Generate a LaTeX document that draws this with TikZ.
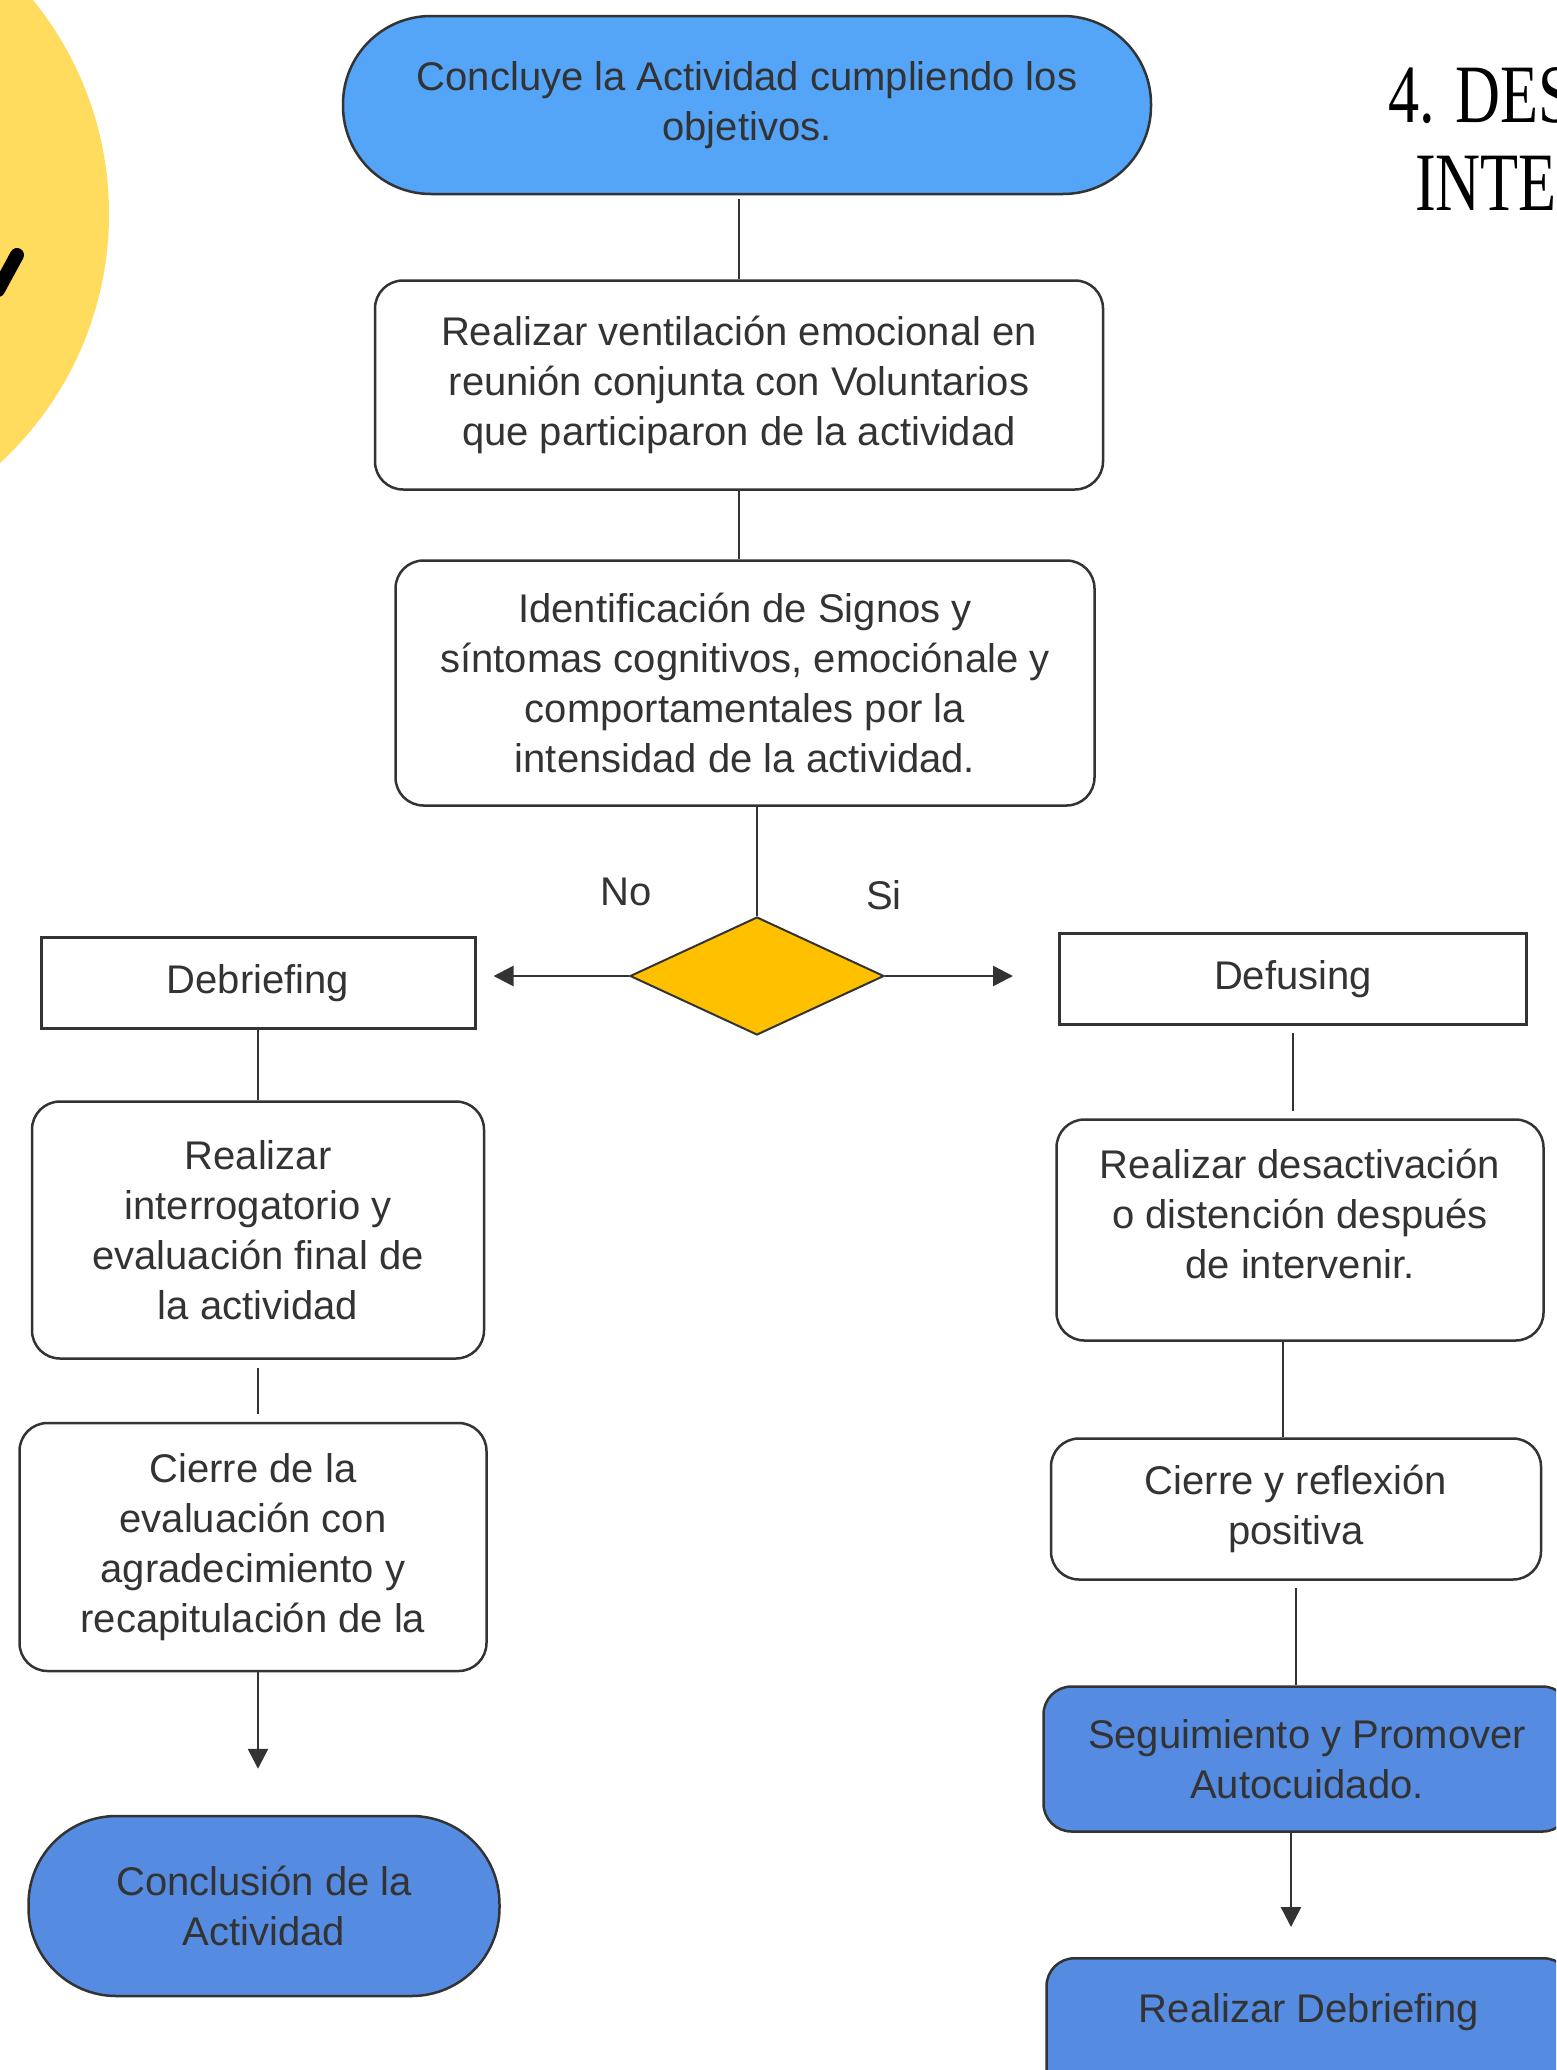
\documentclass[tikz,border=0pt]{standalone}
\usepackage{fontspec}
\setmainfont{Liberation Sans}
\newfontfamily\titlefont[FakeStretch=0.75]{Liberation Serif}
\usetikzlibrary{shapes.geometric,arrows.meta}
\definecolor{cielo}{HTML}{54A4F7}
\definecolor{azul}{HTML}{558BE1}
\definecolor{ambar}{HTML}{FFC000}
\definecolor{sol}{HTML}{FFDC5E}
\definecolor{tinta}{HTML}{333333}

\begin{document}
\begin{tikzpicture}[x=1pt,y=-1pt,
    every node/.style={text=tinta, font=\fontsize{40}{50}\selectfont, align=center, inner sep=0pt},
    caja/.style={draw=tinta, line width=2.5pt, rounded corners=28pt},
    recto/.style={draw=tinta, line width=3pt},
    fin/.style={draw=tinta, line width=2.5pt, rounded corners=88pt},
    rombo/.style={diamond, draw=tinta, line width=2pt, fill=ambar},
    linea/.style={draw=tinta, line width=2.5pt},
    flecha/.style={linea, -{Triangle[width=20pt,length=20pt]}}]
  \useasboundingbox (0,0) rectangle (1556,2070);
  \clip (0,0) rectangle (1556,2070);
  \fill[sol] (-230,214) circle (339);
  \draw[line width=14pt, line cap=round] (17,255) -- (-2,290);
  \node[anchor=base west, text=black, font=\titlefont\fontsize{83}{90}\selectfont] (titulo) at (1388,122) {4. DES};
  \node[anchor=base west, text=black, font=\titlefont\fontsize{83}{90}\selectfont] (subtitulo) at (1415,210) {INTE};

  \node[fin, fill=cielo, minimum width=808pt, minimum height=178pt] (inicio) at (747,105) {Concluye la Actividad cumpliendo los\\objetivos.};
  \node[caja, minimum width=728pt, minimum height=209pt] (ventila) at (739,385) {Realizar ventilación emocional en\\reunión conjunta con Voluntarios\\que participaron de la actividad};
  \node[caja, minimum width=699pt, minimum height=245pt] (signos) at (745,683) {Identificación de Signos y\\síntomas cognitivos, emociónale y\\comportamentales por la\\intensidad de la actividad.};
  \node[rombo, minimum width=254pt, minimum height=118pt] (decide) at (757,976) {};
  \node (no) at (626,892) {No};
  \node (si) at (884,895) {Si};
  \node[recto, minimum width=434pt, minimum height=91pt] (debrief) at (258,983) {Debriefing};
  \node[recto, minimum width=467pt, minimum height=91pt] (defus) at (1293,979) {Defusing};
  \node[caja, minimum width=452pt, minimum height=257pt] (interroga) at (258,1230) {Realizar\\interrogatorio y\\evaluación final de\\la actividad};
  \node[caja, minimum width=467pt, minimum height=248pt] (cierre) at (253,1547) {Cierre de la\\evaluación con\\agradecimiento y\\recapitulación de la};
  \node[fin, fill=azul, minimum width=471pt, minimum height=180pt] (conclusion) at (264,1906) {Conclusión de la\\Actividad};
  \node[caja, minimum width=487pt, minimum height=221pt, text depth=32pt] (desactiva) at (1300,1230) {Realizar desactivación\\o distención después\\de intervenir.};
  \node[caja, minimum width=490pt, minimum height=141pt] (reflexion) at (1296,1509) {Cierre y reflexión\\positiva};
  \node[caja, fill=azul, minimum width=527pt, minimum height=145pt] (seguimiento) at (1307,1759) {Seguimiento y Promover\\Autocuidado.};
  \node[caja, fill=azul, anchor=north, minimum width=525pt, text height=30pt, text depth=150pt, inner ysep=34pt] (realiza) at (1309,1957) {Realizar Debriefing};

  \draw[linea, shorten >=4pt] (ventila.north) -- (ventila.north |- inicio.south);
  \draw[linea] (ventila.south) -- (ventila.south |- signos.north);
  \draw[linea] (decide.north) -- (decide.north |- signos.south);
  \draw[flecha, shorten >=17pt] (decide.west) -- (debrief.east |- decide.west);
  \draw[flecha, shorten >=45pt] (decide.east) -- (defus.west |- decide.east);
  \draw[linea] (debrief.south) -- (interroga.north);
  \draw[linea, shorten <=8pt, shorten >=8pt] (interroga.south) -- (interroga.south |- cierre.north);
  \draw[flecha, shorten >=46pt] ([xshift=5pt]cierre.south) -- ([xshift=5pt]cierre.south |- conclusion.north);
  \draw[linea, shorten <=7pt, shorten >=7pt] (defus.south) -- (defus.south |- desactiva.north);
  \draw[linea] ([xshift=-13pt]reflexion.north) -- ([xshift=-13pt]reflexion.north |- desactiva.south);
  \draw[linea, shorten <=7pt] (reflexion.south) -- (reflexion.south |- seguimiento.north);
  \draw[flecha, shorten >=30pt] ([xshift=-16pt]seguimiento.south) -- ([xshift=-16pt]seguimiento.south |- realiza.north);
\end{tikzpicture}
\end{document}
